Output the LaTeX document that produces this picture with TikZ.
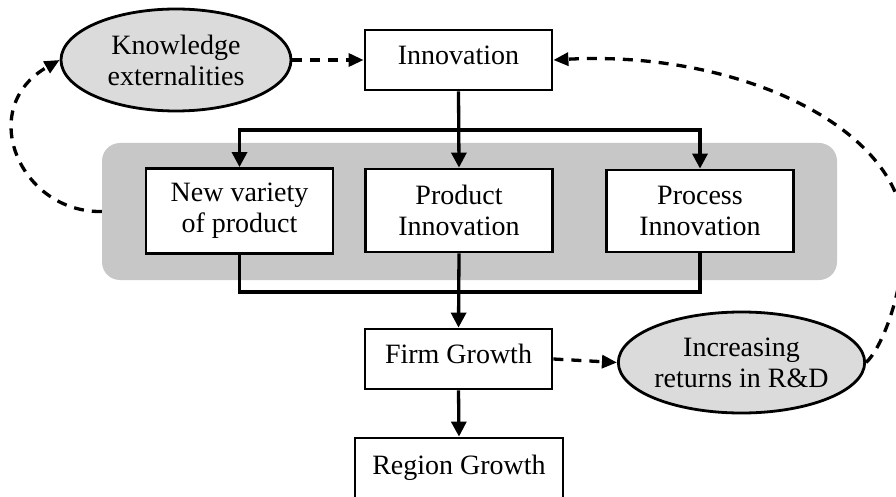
\documentclass[tikz,border=0pt]{standalone}
\usepackage{fontspec}
\setmainfont{Liberation Serif}
\usetikzlibrary{arrows.meta,shapes.geometric}
\begin{document}
\begin{tikzpicture}[x=1pt,y=-1pt,
  every node/.style={font=\fontsize{28}{31}\selectfont, inner sep=0pt},
  box/.style={draw, line width=2.8pt, fill=white, align=center, minimum width=187pt},
  single/.style={text height=18pt, text depth=9pt},
  oval/.style={ellipse, draw, line width=2.8pt, fill=black!14, align=center},
  group/.style={fill=black!22, rounded corners=18pt},
  plain/.style={line width=3.3pt},
  conn/.style={line width=3.3pt, -{Triangle[length=15pt,width=15pt]}},
  dashconn/.style={line width=3.3pt, dash pattern=on 10pt off 8pt, -{Triangle[length=15pt,width=13pt]}},
]
\clip (0,0) rectangle (896,497);
% shaded group
\node[group, minimum width=735pt, minimum height=137pt] (grp) at (469.5,211.5) {};
% nodes
\node[box, single, minimum height=60pt] (inn) at (458.5,60) {Innovation};
\node[box, minimum height=85pt] (nv) at (239.5,211) {New variety\\of product};
\node[box, minimum height=83pt] (pd) at (459,210.5) {Product\\Innovation};
\node[box, minimum height=82pt] (pc) at (700,211) {Process\\Innovation};
\node[box, single, minimum height=60pt] (fg) at (458.5,359) {Firm Growth};
\node[box, minimum width=208pt, text height=18pt, text depth=15pt, inner ysep=18pt] (rg) at (459,472.5) {Region Growth};
\node[oval, minimum width=230pt, minimum height=102pt] (ke) at (176,60) {Knowledge\\externalities};
\node[oval, minimum width=229pt, minimum height=101pt] (ir) at (741.5,362.5) {Increasing\\returns in R\&D};
% split and merge points
\coordinate (split) at (458,130);
\coordinate (merge) at (458,292);
% solid connectors
\draw[conn] (inn.south) -- (pd.north);
\draw[plain, {Triangle[length=15pt,width=15pt]}-{Triangle[length=15pt,width=15pt]}] (nv.north) -- (nv.north |- split) -- (pc.north |- split) -- (pc.north);
\draw[plain] (nv.south) -- (nv.south |- merge) -- (pc.south |- merge) -- (pc.south);
\draw[conn] (pd.south) -- (fg.north);
\draw[conn] (fg.south) -- (rg.north);
% dashed connectors
\draw[dashconn] (ke.east) -- (inn.west);
\draw[dashconn] (fg.east) -- (ir.west);
\draw[dashconn] (grp.west) .. controls (20,213) and (-25,108) .. (ke.west);
\draw[dashconn] (ir.east) .. controls (880,350) and (902,300) .. (904,240) .. controls (910,130) and (740,50) .. (inn.east);
\end{tikzpicture}
\end{document}
